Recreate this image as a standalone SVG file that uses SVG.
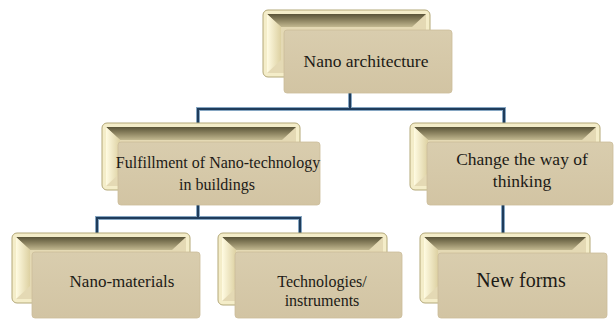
<svg xmlns="http://www.w3.org/2000/svg" width="615" height="321" viewBox="0 0 615 321">
  <defs>
    <linearGradient id="bevelTop" x1="0" y1="0" x2="0" y2="1">
      <stop offset="0" stop-color="#5a5438"/>
      <stop offset="0.5" stop-color="#8e8562"/>
      <stop offset="1" stop-color="#c2b890"/>
    </linearGradient>
    <linearGradient id="bevelLeft" x1="0" y1="0" x2="1" y2="0">
      <stop offset="0" stop-color="#fffbe2"/>
      <stop offset="1" stop-color="#ddd1a2"/>
    </linearGradient>
    <linearGradient id="face" x1="0" y1="0" x2="0" y2="1">
      <stop offset="0" stop-color="#d9cdae"/>
      <stop offset="1" stop-color="#d2c4a3"/>
    </linearGradient>
  </defs>
  <style>
    .rim { fill: #f4edc9; stroke: #b3a878; stroke-width: 1; }
    .well { fill: #e4d9b4; }
    .top { fill: url(#bevelTop); }
    .left { fill: url(#bevelLeft); }
    .face { fill: url(#face); stroke: #cbbd9b; stroke-width: 0.8; }
    .lbl { font-family: "Liberation Serif", "Times New Roman", serif; fill: #1c1a16; text-anchor: middle; }
    .wire-o { fill: none; stroke: #86a6c2; stroke-width: 4; }
    .wire-i { fill: none; stroke: #1f3c5b; stroke-width: 2; }
  </style>

  <rect width="615" height="321" fill="#ffffff"/>

  <!-- connectors -->
  <g id="connectors">
    <path class="wire-o" d="M350,93 V109 M198,123 V109 H504 V123 M198,205 V218 M97,233 V218 H300 V233 M503,205 V233"/>
    <path class="wire-i" d="M350,93 V109 M198,123 V109 H504 V123 M198,205 V218 M97,233 V218 H300 V233 M503,205 V233"/>
  </g>

  <!-- Nano architecture -->
  <g id="node-root">
    <rect class="rim" x="263" y="10" width="167" height="67" rx="5"/>
    <rect class="well" x="267" y="14" width="159" height="59"/>
    <polygon class="top" points="267,14 426,14 412,27 281,27"/>
    <polygon class="left" points="267,14 281,27 281,60 267,73"/>
    <rect class="face" x="284" y="30" width="168" height="63" rx="3"/>
    <text class="lbl" x="366" y="67" font-size="17.5">Nano architecture</text>
  </g>

  <!-- Fulfillment of Nano-technology in buildings -->
  <g id="node-fulfillment">
    <rect class="rim" x="102" y="123" width="198" height="67" rx="5"/>
    <rect class="well" x="106" y="127" width="190" height="59"/>
    <polygon class="top" points="106,127 296,127 282,140 120,140"/>
    <polygon class="left" points="106,127 120,140 120,173 106,186"/>
    <rect class="face" x="118" y="142" width="202" height="63" rx="3"/>
    <text class="lbl" x="218" y="168" font-size="16">Fulfillment of Nano-technology</text>
    <text class="lbl" x="217" y="190" font-size="16">in buildings</text>
  </g>

  <!-- Change the way of thinking -->
  <g id="node-change">
    <rect class="rim" x="410" y="123" width="190" height="67" rx="5"/>
    <rect class="well" x="414" y="127" width="182" height="59"/>
    <polygon class="top" points="414,127 596,127 582,140 428,140"/>
    <polygon class="left" points="414,127 428,140 428,173 414,186"/>
    <rect class="face" x="427" y="142" width="186" height="63" rx="3"/>
    <text class="lbl" x="522" y="165" font-size="17.5">Change the way of</text>
    <text class="lbl" x="522" y="187" font-size="17.5">thinking</text>
  </g>

  <!-- Nano-materials -->
  <g id="node-materials">
    <rect class="rim" x="12" y="233" width="178" height="70" rx="5"/>
    <rect class="well" x="16" y="237" width="170" height="62"/>
    <polygon class="top" points="16,237 186,237 172,250 30,250"/>
    <polygon class="left" points="16,237 30,250 30,286 16,299"/>
    <rect class="face" x="32" y="252" width="168" height="66" rx="3"/>
    <text class="lbl" x="122" y="287" font-size="17">Nano-materials</text>
  </g>

  <!-- Technologies/instruments -->
  <g id="node-technologies">
    <rect class="rim" x="218" y="233" width="169" height="72" rx="5"/>
    <rect class="well" x="222" y="237" width="161" height="64"/>
    <polygon class="top" points="222,237 383,237 369,250 236,250"/>
    <polygon class="left" points="222,237 236,250 236,288 222,301"/>
    <rect class="face" x="235" y="252" width="167" height="66" rx="3"/>
    <text class="lbl" x="322" y="287" font-size="16">Technologies/</text>
    <text class="lbl" x="322" y="306" font-size="16">instruments</text>
  </g>

  <!-- New forms -->
  <g id="node-forms">
    <rect class="rim" x="420" y="233" width="170" height="70" rx="5"/>
    <rect class="well" x="424" y="237" width="162" height="62"/>
    <polygon class="top" points="424,237 586,237 572,250 438,250"/>
    <polygon class="left" points="424,237 438,250 438,286 424,299"/>
    <rect class="face" x="438" y="253" width="169" height="65" rx="3"/>
    <text class="lbl" x="521" y="287" font-size="20">New forms</text>
  </g>
</svg>
